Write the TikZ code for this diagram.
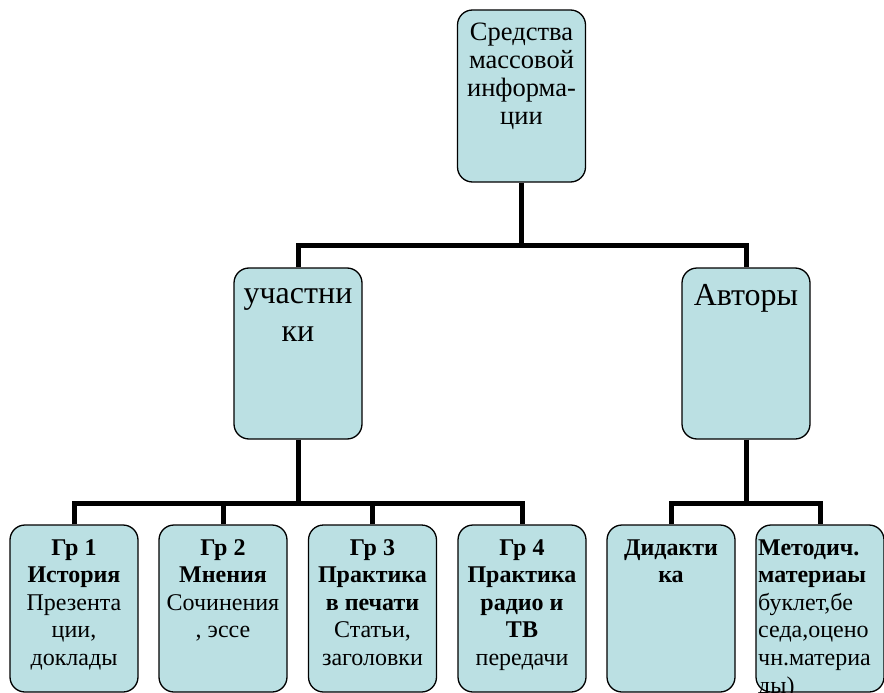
\documentclass[tikz,border=0pt]{standalone}
\usepackage{fontspec}
\setmainfont{Liberation Serif}
\definecolor{boxfill}{RGB}{187,224,227}
\begin{document}
\begin{tikzpicture}[x=1pt,y=-1pt,
  box/.style={draw=black,line width=1.3pt,fill=boxfill,rounded corners=15pt,
    minimum width=128pt,minimum height=#1,inner sep=0pt},
  conn/.style={draw=black,line width=5pt},
  txt/.style={inner sep=0pt,anchor=base}]
\useasboundingbox (0,0) rectangle (884,693);
\clip (0,0) rectangle (884,693);
\coordinate (busA) at (0,245);
\coordinate (busB) at (0,503);
% boxes
\node[box=172pt] (top) at (521.5,96) {};
\node[box=171pt] (part) at (298,353.5) {};
\node[box=171pt] (auth) at (746,353.5) {};
\node[box=167pt] (g1) at (74,608.5) {};
\node[box=167pt] (g2) at (223,608.5) {};
\node[box=167pt] (g3) at (372.5,608.5) {};
\node[box=167pt] (g4) at (522,608.5) {};
\node[box=167pt] (g5) at (671,608.5) {};
\node[box=167pt] (g6) at (820,608.5) {};
% connectors
\draw[conn] (top.south) -- (top.south |- busA);
\draw[conn] (part.north) -- (part.north |- busA) -- (auth.north |- busA) -- (auth.north);
\draw[conn] (part.south) -- (part.south |- busB);
\draw[conn] (g1.north) -- (g1.north |- busB) -- (g4.north |- busB) -- (g4.north);
\draw[conn] (g2.north) -- (g2.north |- busB);
\draw[conn] (g3.north) -- (g3.north |- busB);
\draw[conn] (auth.south) -- (auth.south |- busB);
\draw[conn] (g5.north) -- (g5.north |- busB) -- (g6.north |- busB) -- (g6.north);
% texts
\node[txt] (topT) at (521.5,41) {\parbox[t]{130pt}{\centering\fontsize{26.5}{28}\selectfont Средства\\массовой\\информа-\\ции}};
\node[txt] (partT) at (298,303) {\parbox[t]{130pt}{\centering\fontsize{32}{38}\selectfont участни\\ки}};
\node[txt] (authT) at (746,305) {\parbox[t]{130pt}{\centering\fontsize{32}{38}\selectfont Авторы}};
\node[txt] (g1T) at (74,555) {\parbox[t]{128pt}{\centering\fontsize{24}{27.6}\selectfont \textbf{Гр 1}\\\textbf{История}\\Презента\\ции,\\доклады}};
\node[txt] (g2T) at (223,555) {\parbox[t]{128pt}{\centering\fontsize{24}{27.6}\selectfont \textbf{Гр 2}\\\textbf{Мнения}\\Сочинения\\, эссе}};
\node[txt] (g3T) at (372.5,555) {\parbox[t]{128pt}{\centering\fontsize{24}{27.6}\selectfont \textbf{Гр 3}\\\textbf{Практика}\\\textbf{в печати}\\Статьи,\\заголовки}};
\node[txt] (g4T) at (522,555) {\parbox[t]{128pt}{\centering\fontsize{24}{27.6}\selectfont \textbf{Гр 4}\\\textbf{Практика}\\\textbf{радио и}\\\textbf{ТВ}\\передачи}};
\node[txt] (g5T) at (671,555) {\parbox[t]{128pt}{\centering\fontsize{24}{27.6}\selectfont \textbf{Дидакти}\\\textbf{ка}}};
\node[txt,anchor=base west] (g6T) at (758,555) {\parbox[t]{128pt}{\raggedright\fontsize{24}{27.6}\selectfont \textbf{Методич.}\\\textbf{материаы}\\буклет,бе\\седа,оцено\\чн.материа\\ды)}};
\end{tikzpicture}
\end{document}
